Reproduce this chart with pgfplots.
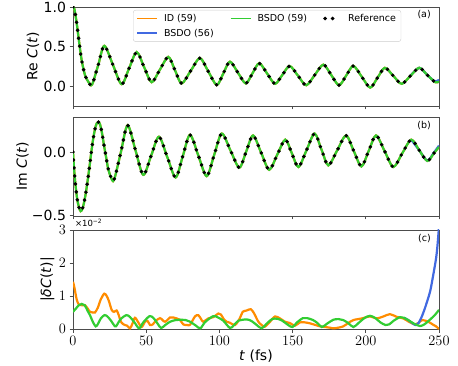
\documentclass[border=0pt]{standalone}
\usepackage{fontspec}
\setmainfont{DejaVu Sans}
\usepackage{pgfplots}
\usepackage{pgfplotstable}
\pgfplotsset{compat=1.18}

\definecolor{idorange}{RGB}{255,140,0}
\definecolor{bsdoblue}{RGB}{65,105,225}
\definecolor{bsdogreen}{RGB}{50,205,50}
\newcommand\tickfont{\fontsize{14}{14}\selectfont}
\newcommand\smallfont{\fontsize{9.5}{9.5}\selectfont}

% Re C(t), reference / BSDO (59)
\pgfplotstableread{
t v
0 1.0
1 0.97
2.5 0.80
4.1 0.57
5.9 0.33
8.2 0.14
10.5 0.055
13 0.02
17.2 0.265
21.4 0.51
27.3 0.268
33.2 0.025
38.35 0.228
43.5 0.43
48.6 0.24
53.7 0.05
59.4 0.21
65.1 0.37
69.65 0.2025
74.2 0.035
80.45 0.195
86.7 0.355
92.45 0.185
98.2 0.015
102.7 0.1625
107.2 0.31
112.6 0.1725
118 0.035
122.6 0.1625
127.2 0.29
132.6 0.16
138 0.03
143 0.1425
148 0.255
153.65 0.1335
159.3 0.012
165.15 0.142
171 0.272
176.35 0.142
181.7 0.012
186.6 0.134
191.5 0.256
197.25 0.119
203 -0.018
208 0.107
213 0.232
218.75 0.131
224.5 0.03
230.5 0.131
236.5 0.232
242 0.141
247.5 0.05
250 0.06
}\retable

\pgfplotstableread{
t v
230.5 0.131
236.5 0.232
242 0.141
247 0.062
250 0.08
}\reblue

% Im C(t)
\pgfplotstableread{
t v
0 0
0.5 -0.09
1 -0.17
2 -0.29
3 -0.38
4.1 -0.435
5.2 -0.465
6.3 -0.45
7.3 -0.41
8.5 -0.34
9.7 -0.25
11 -0.14
12.3 -0.02
13.6 0.09
15 0.18
16.2 0.225
17.3 0.236
18.5 0.215
19.8 0.15
21.2 0.05
22.6 -0.04
24 -0.13
25.8 -0.195
28 -0.22
32.65 -0.005
37.3 0.21
42.65 0.015
48 -0.18
53.35 -0.03
58.7 0.12
64.4 -0.04
70.1 -0.2
75 -0.0325
79.9 0.135
85.6 -0.0275
91.3 -0.19
96.45 -0.0225
101.6 0.145
107.6 0.011
113.6 -0.123
118.3 0.0035
123 0.13
128.5 -0.005
134 -0.14
139.5 -0.0215
145 0.097
149.5 -0.0105
154 -0.118
159.5 0.0135
165 0.145
169.7 0.02
174.4 -0.105
180.45 0.0125
186.5 0.13
191.75 0.0085
197 -0.113
202 0.0085
207 0.13
212.9 0.006
218.8 -0.118
224.9 -0.0105
231 0.097
236.5 0.0135
242 -0.07
246.5 -0.01
250 0.04
}\imtable

\pgfplotstableread{
t v
231 0.097
236.5 0.0135
242 -0.068
246.5 -0.005
250 0.05
}\imblue

% |dC(t)| in units of 1e-2
\pgfplotstableread{
t v
0 1.43
1 1.25
2.5 0.9
4 0.74
6 0.72
8.2 0.72
10 0.62
11.6 0.52
13.5 0.5
15 0.5
17 0.65
19 0.9
21.4 1.07
23 1.0
24.5 0.85
26.4 0.58
28 0.52
29.8 0.56
31 0.45
33 0.2
35.5 0.12
37 0.1
38.9 0.02
40.5 0.15
42.3 0.34
44.6 0.2
46.9 0.06
49.2 0.22
51 0.24
52.6 0.12
54.5 0.14
56 0.22
59.4 0.33
62.8 0.22
66.3 0.35
68.5 0.35
70.8 0.32
73 0.28
75.3 0.14
78 0.12
80 0.13
83.3 0.38
85.6 0.42
87.5 0.3
89 0.22
92.4 0.32
95.8 0.36
99.3 0.47
101 0.44
103 0.3
105 0.22
107.2 0.19
110.7 0.12
114 0.33
115.9 0.52
118.6 0.56
121.4 0.6
123.6 0.48
126.6 0.22
128.9 0.12
131 0.07
134.6 0.22
138 0.38
141.4 0.32
144.8 0.22
148.2 0.18
151.6 0.1
155 0.2
158.5 0.2
162 0.17
165 0.13
168.7 0.08
172 0.06
175.5 0.04
177.8 0.02
181.2 0.04
184.6 0.08
188 0.18
191.5 0.27
197.2 0.32
202.9 0.38
207.4 0.32
212 0.38
216.5 0.45
221 0.37
225.6 0.32
230.2 0.2
233.6 0.14
236 0.18
238.2 0.27
240 0.26
242.7 0.22
246 0.13
248 0.08
250 0.0
}\dcid

\pgfplotstableread{
t v
0 0.52
2 0.62
4 0.72
6 0.76
8 0.72
10 0.55
11.6 0.42
13.5 0.22
15.5 0.08
17 0.15
19 0.32
21.5 0.42
23.5 0.38
26 0.25
28.7 0.08
30 0.12
32.5 0.3
36.5 0.42
39 0.36
42 0.2
45.2 0.02
48 0.2
52.3 0.39
55 0.33
58 0.15
60.2 0.03
63 0.12
66.3 0.22
70 0.27
73 0.28
77 0.27
80 0.22
84 0.1
87 0.02
90 0.2
95.8 0.39
99 0.35
102.7 0.25
107.2 0.03
110 0.12
113 0.25
118.6 0.29
122 0.24
125.5 0.12
128.9 0.02
132 0.15
136 0.3
139.5 0.31
143 0.25
147 0.12
150 0.06
153 0.2
157 0.33
160 0.33
164 0.27
167 0.18
170 0.06
173.5 0.16
177.8 0.28
181.5 0.3
184.6 0.27
188 0.18
191.5 0.06
195 0.18
199 0.33
202.9 0.4
206.5 0.33
210 0.2
213.5 0.12
216 0.14
219 0.25
223.4 0.36
226 0.34
229 0.27
233 0.16
237 0.09
240 0.14
243 0.25
245 0.33
247.5 0.44
250 0.58
}\dcgreen

\pgfplotstableread{
t v
226 0.34
229 0.27
232 0.17
234 0.12
236 0.18
238 0.35
240 0.58
242 0.85
244 1.15
246 1.62
248 2.14
249 2.55
250 3.1
}\dcblue

\pgfplotsset{
  panel/.style={
    scale only axis, width=366pt, height=99pt,
    xmin=0, xmax=250, xtick={0,50,...,250},
    clip mode=individual,
    tick align=outside, tick pos=left, major tick length=3.5pt,
    axis line style={black!70, line width=0.8pt},
    tick style={black!70, line width=0.8pt},
    tick label style={font=\tickfont},
    every axis plot/.append style={line width=2.2pt, smooth},
  },
  % reference points: round dots spaced evenly along the curve
  refdots/.style={black, line width=3.9pt, line cap=round,
    dash pattern=on 0pt off 8pt},
}

\begin{document}
\begin{tikzpicture}
\useasboundingbox (0pt,0pt) rectangle (458pt,-366pt);

% (a) real part
\begin{axis}[panel, at={(73pt,-7pt)}, anchor=north west,
  ymin=-0.25, ymax=1.0, ytick={0,0.5,1}, yticklabels={0.0,0.5,1.0},
  xticklabels={},
  every axis y label/.style={at={(axis description cs:-0.109,0.5)}, rotate=90, anchor=center, font=\tickfont},
  ylabel={Re \textit{C}(\textit{t})},
  legend columns=3, legend cell align=left,
  legend image code/.code={\draw[#1, line width=1.8pt, sharp corners] (0pt,0pt) -- (20pt,0pt);},
  legend style={at={(0.164,0.97)}, anchor=north west, draw=black!20,
    rounded corners=2.5pt, fill=white, fill opacity=0.8, text opacity=1,
    font=\smallfont, inner xsep=3pt, inner ysep=2pt, row sep=2pt,
    /tikz/every odd column/.append style={column sep=4pt},
    /tikz/every even column/.append style={column sep=14pt}},
]
\addplot[idorange, forget plot] table[x=t, y=v] {\retable};
\addplot[bsdoblue, forget plot] table[x=t, y=v] {\reblue};
\addplot[bsdogreen, forget plot] table[x=t, y=v] {\retable};
\addplot[refdots, forget plot] table[x=t, y=v] {\retable};
\addlegendimage{idorange}
\addlegendentry{ID (59)}
\addlegendimage{bsdogreen}
\addlegendentry{BSDO (59)}
\addlegendimage{legend image code/.code={
  \draw[black, line width=3.9pt, line cap=round, dash pattern=on 0pt off 7.5pt]
    (2.5pt,0pt) -- (17.5pt,0pt);}}
\addlegendentry{Reference}
\addlegendimage{bsdoblue}
\addlegendentry{BSDO (56)}
\node[anchor=north east, inner sep=0pt, font=\smallfont] at (rel axis cs:0.978,0.965) {(a)};
\end{axis}

% (b) imaginary part
\begin{axis}[panel, at={(73pt,-117pt)}, anchor=north west,
  ymin=-0.503, ymax=0.275, ytick={-0.5,0}, yticklabels={−0.5,0.0},
  xticklabels={},
  every axis y label/.style={at={(axis description cs:-0.138,0.5)}, rotate=90, anchor=center, font=\tickfont},
  ylabel={Im \textit{C}(\textit{t})},
]
\addplot[idorange] table[x=t, y=v] {\imtable};
\addplot[bsdoblue] table[x=t, y=v] {\imblue};
\addplot[bsdogreen] table[x=t, y=v] {\imtable};
\addplot[refdots] table[x=t, y=v] {\imtable};
\node[anchor=north east, inner sep=0pt, font=\smallfont] at (rel axis cs:0.978,0.96) {(b)};
\end{axis}

% (c) error
\begin{axis}[panel, at={(73pt,-230pt)}, anchor=north west,
  ymin=0, ymax=3, ytick={0,1,2,3},
  every axis y label/.style={at={(axis description cs:-0.07,0.5)}, rotate=90, anchor=center, font=\tickfont},
  ylabel={|\textit{δC}(\textit{t})|},
  every axis x label/.style={at={(axis description cs:0.5,-0.273)}, anchor=center, font=\tickfont},
  xlabel={\textit{t} (fs)},
]
\addplot[idorange] table[x=t, y=v] {\dcid};
\addplot[bsdoblue] table[x=t, y=v] {\dcblue};
\addplot[bsdogreen] table[x=t, y=v] {\dcgreen};
\node[anchor=north east, inner sep=0pt, font=\smallfont] at (rel axis cs:0.978,0.96) {(c)};
\node[anchor=south west, inner sep=0pt, font=\fontsize{8.5}{8.5}\selectfont] at (rel axis cs:0.005,1.03) {×10\textsuperscript{−2}};
\end{axis}
\end{tikzpicture}
\end{document}
